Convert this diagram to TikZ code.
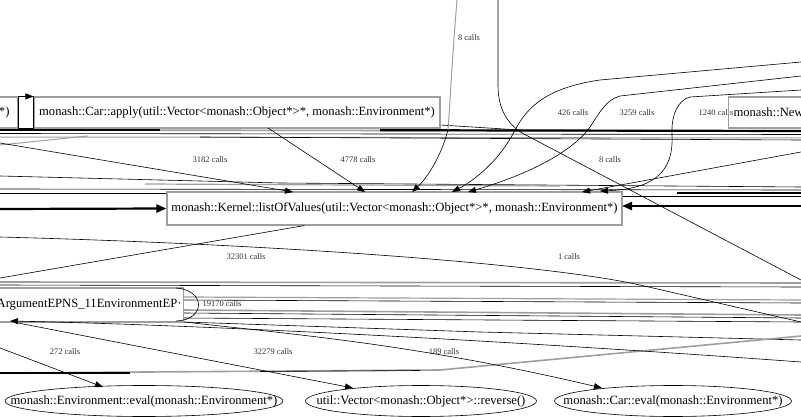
\documentclass[tikz,border=0pt]{standalone}
\usepackage{fontspec}
\setmainfont{Liberation Serif}
\usetikzlibrary{arrows.meta,shapes.geometric}
\definecolor{bgray}{gray}{0.62}
\begin{document}
\begin{tikzpicture}[x=1pt,y=-1pt,
  box/.style={draw=bgray,line width=1.1pt,rectangle,inner sep=0pt,font=\fontsize{12.6}{14}\selectfont},
  ell/.style={draw=black,line width=0.6pt,ellipse,inner sep=0pt,minimum height=31pt,
     label={[font=\fontsize{12.6}{14}\selectfont]center:#1}},
  lab/.style={font=\fontsize{8.5}{10}\selectfont,inner sep=0pt,text=black!80},
  e/.style={draw=black,line width=0.6pt},
  g/.style={draw=bgray,line width=1.6pt},
  k/.style={draw=black,line width=2.2pt},
  arr/.style={-{Triangle[length=8pt,width=6pt]}},
  karr/.style={-{Triangle[length=10pt,width=8pt]}},
]
\useasboundingbox (0,0) rectangle (801,417);
\clip (0,0) rectangle (801,417);

% ---------- background bundles of edges ----------
% band A
\draw[g] (0,130) -- (801,131);
\draw[k] (0,129.5) -- (160,129.5);
\draw[k] (380,130.2) -- (801,131);
\draw[e] (0,133.5) -- (801,134.5);
\draw[g,line width=1pt] (0,137) -- (801,138);
\draw[e] (440,125) -- (520,130);
\draw[g,line width=1pt] (0,145) -- (88,136);
\draw[e] (200,137) -- (801,140);
% band B
\draw[e] (0,176) -- (280,183) -- (801,187);
\draw[g,line width=1.2pt] (145,184) -- (560,186);
\draw[e] (0,189) -- (801,190);
\draw[e] (0,193) -- (167,193);
\draw[e,line width=1.4pt] (677,193) -- (801,193);
\draw[e] (622,196) -- (801,196);
% band C
\draw[g] (0,282) -- (801,283);
\draw[e] (0,285) -- (801,287);
\draw[e] (0,288) -- (184,288);
\draw[g,line width=1.2pt] (184,297) -- (801,300);
\draw[e] (184,300) -- (801,303);
\draw[g] (184,310) -- (801,315);
\draw[e] (184,313) -- (801,318);
\draw[e] (184,318) -- (801,322);
\draw[e] (184,322) -- (480,332) -- (801,340);
% band D
\draw[g] (0,373) -- (440,370) -- (801,336);
\draw[k,line width=1.4pt] (0,373) -- (130,373);
\draw[e] (260,371.5) -- (420,370.5);

% ---------- nodes ----------
\node[box,anchor=east,minimum height=31pt,text width=110pt,align=right,inner xsep=8pt] (lbox) at (18,112.5) {*)};
\node[box,minimum width=406pt,minimum height=31pt] (apply) at (237,112.5)
  {monash::Car::apply(util::Vector<monash::Object*>*, monash::Environment*)};
\node[lab] (l1240) at (716,113) {1240 calls};
\node[box,anchor=west,minimum height=31pt,text width=100pt,align=left,inner xsep=5pt] (newb) at (728,112.5) {monash::New};
\node[box,minimum width=455pt,minimum height=33pt] (kernel) at (394.5,208.5)
  {monash::Kernel::listOfValues(util::Vector<monash::Object*>*, monash::Environment*)};
\node[box,anchor=east,minimum height=34pt,text width=200pt,align=right,inner xsep=2pt] (argb) at (184,305)
  {ArgumentEPNS\_11EnvironmentEP·};
\node[ell={monash::Environment::eval(monash::Environment*)},minimum width=278pt] (enveval) at (144,401) {};
\node[ell={util::Vector<monash::Object*>::reverse()},minimum width=231pt] (reverse) at (421,401) {};
\node[ell={monash::Car::eval(monash::Environment*)},minimum width=237pt] (careval) at (673,401) {};

% ---------- free ends ----------
\coordinate (inL) at (0,209);
\coordinate (inR) at (801,206);
\coordinate (kR) at (622,206);
\coordinate (top8) at (457,0);
\coordinate (top8b) at (498,0);
\coordinate (r8b) at (801,280);
\coordinate (r426) at (801,62);
\coordinate (r3259) at (801,76);
\coordinate (r1240) at (801,90);
\coordinate (r582) at (801,152);
\coordinate (l3182) at (0,143);
\coordinate (l32301) at (0,278);
\coordinate (l1) at (0,237);
\coordinate (r1) at (801,322);
\coordinate (l272) at (0,348);
\coordinate (r32279) at (801,362);
\coordinate (argin) at (10,321);

% ---------- connectors ----------
\draw[e] (lbox.south east) -- (lbox.north east);
\draw[e,arr] (lbox.north east) -- (apply.north west);
\draw[e] (apply.north west) -- (apply.south west);

\draw[k,karr] (inL) -- (kernel.west);
\draw[k,karr] (inR) -- (kR);

\draw[e,arr] (l3182) -- (293,192);
\draw[e,arr] (268,128) -- (365,192);
\draw[g,line width=1pt] (top8) .. controls (452,60) and (450,105) .. (448,130);
\draw[e,arr] (448,130) .. controls (440,160) and (425,180) .. (412,192);
\draw[e] (top8b) -- (498,85) .. controls (498,110) and (508,124) .. (522,133) -- (r8b);
\draw[e,arr] (r426) -- (600,80) .. controls (545,88) and (527,108) .. (515,130) .. controls (500,160) and (475,180) .. (452,192);
\draw[e,arr] (r3259) -- (620,96) .. controls (606,100) and (600,112) .. (590,127) .. controls (570,155) and (520,177) .. (468,192);
\draw[e,arr] (r1240) -- (690,97) .. controls (678,100) and (671,115) .. (672,135) .. controls (674,175) and (650,189) .. (600,191);
\draw[e,arr] (r582) -- (582,192);

\draw[e] (kernel.south) ++(-90,0) -- (l32301);
\draw[e] (l1) .. controls (300,245) and (550,265) .. (640,285) -- (r1);

\draw[e] (176,288) .. controls (206,290) and (206,320) .. (176,321);

\draw[e,arr] (l272) -- (103,387);
\draw[e,arr] (18,323) -- (353,388);
\draw[e,arr] (184,322) .. controls (300,335) and (420,345) .. (602,388);
\draw[e,arr] (r32279) .. controls (500,340) and (200,325) .. (argin);

% ---------- labels ----------
\node[lab] (l8a) at (469,38) {8 calls};
\node[lab] (l426) at (573,113) {426 calls};
\node[lab] (l3259) at (637,113) {3259 calls};
\node[lab] (l3182) at (210,160) {3182 calls};
\node[lab] (l4778) at (358,160) {4778 calls};
\node[lab] (l8b) at (610,160) {8 calls};
\node[lab] (l32301n) at (246,257) {32301 calls};
\node[lab] (l1n) at (569,257) {1 calls};
\node[lab] (l19170) at (222,304) {19170 calls};
\node[lab] (l272n) at (65,352) {272 calls};
\node[lab] (l32279n) at (273,352) {32279 calls};
\node[lab] (l189) at (444,352) {189 calls};
\end{tikzpicture}
\end{document}
